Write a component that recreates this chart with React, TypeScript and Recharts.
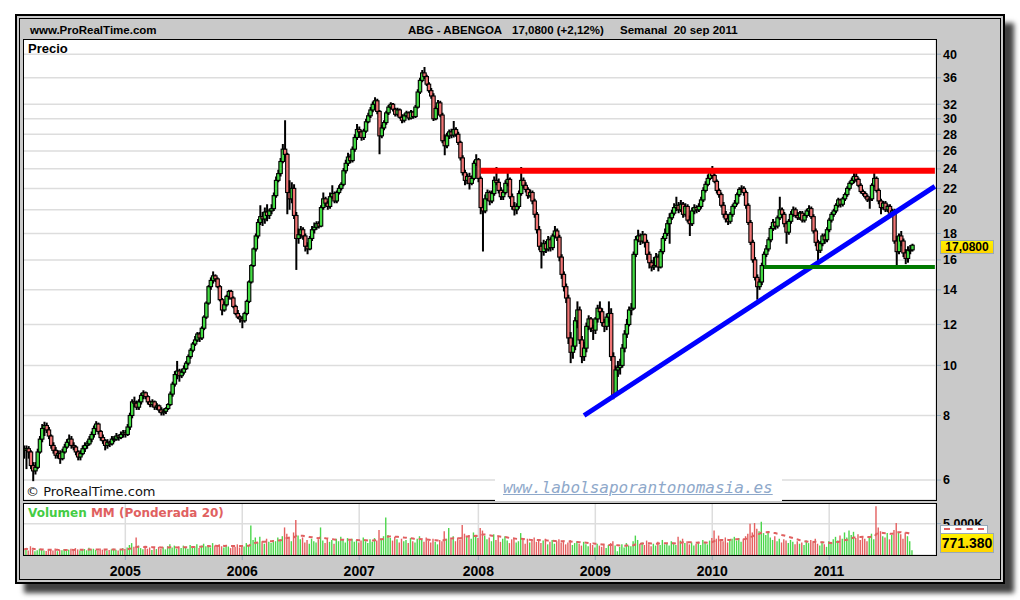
import { Bar, CartesianGrid, Cell, ComposedChart, Line, ReferenceLine, XAxis, YAxis } from 'recharts'

// weekly bars, first week starting Monday 23 Feb 2004
const START = Date.UTC(2004, 1, 23)
const WEEK = 7 * 24 * 3600 * 1000
const EMPTY_WEEKS = 10
const FIRST_OPEN = 6.9

const closes = [
  6.85, 6.9, 6.8, 6.4, 6.25, 6.35, 6.8, 7.2, 7.55, 7.65,
  7.5, 7.3, 7.0, 6.85, 6.7, 6.75, 6.6, 6.8, 6.95, 7.1,
  7.2, 7.0, 6.95, 6.8, 6.65, 6.75, 6.9, 7.0, 7.05, 7.2,
  7.35, 7.55, 7.7, 7.45, 7.25, 7.15, 7.0, 7.1, 7.05, 7.2,
  7.2, 7.3, 7.25, 7.35, 7.4, 7.35, 7.6, 8.0, 8.5, 8.45,
  8.3, 8.5, 8.75, 8.85, 8.7, 8.5, 8.4, 8.5, 8.3, 8.35,
  8.2, 8.1, 8.15, 8.25, 8.4, 8.8, 9.2, 9.6, 9.75, 9.55,
  9.7, 9.85, 10.1, 10.4, 10.7, 11.0, 11.2, 11.5, 11.3, 11.8,
  12.4, 13.2, 14.2, 14.6, 14.9, 14.7, 14.2, 13.4, 12.8, 13.1,
  13.6, 13.9, 13.5, 13.0, 12.6, 12.4, 12.3, 12.2, 12.6, 13.3,
  14.5, 15.6, 16.8, 17.8, 18.9, 19.4, 19.2, 19.8, 19.5, 19.9,
  20.1, 21.3, 22.8, 23.5, 24.8, 26.2, 25.6, 21.6, 21.0, 22.0,
  19.5, 17.6, 17.9, 18.3, 17.8, 17.0, 16.8, 17.6, 18.3, 18.5,
  18.8, 18.6, 20.2, 21.0, 20.6, 20.3, 21.2, 21.5, 20.8, 21.6,
  22.0, 22.4, 23.8, 24.6, 25.3, 24.9, 26.2, 27.6, 28.6, 28.3,
  27.6, 28.4, 29.6, 30.4, 31.2, 32.0, 32.5, 31.0, 27.8, 28.8,
  29.5, 30.8, 31.6, 32.0, 31.3, 30.6, 31.2, 30.2, 29.8, 30.4,
  30.8, 30.1, 30.9, 30.3, 31.6, 33.8, 35.6, 36.8, 36.2, 35.0,
  34.0, 33.2, 30.0, 31.4, 32.2, 30.5, 27.2, 26.6, 27.8, 28.3,
  27.9, 28.6, 28.0, 27.0, 25.2, 23.6, 22.8, 23.2, 22.5, 23.0,
  24.6, 25.0, 23.0, 20.2, 19.9, 21.0, 21.6, 20.8, 21.5, 22.8,
  22.6, 21.8, 21.2, 21.6, 22.5, 22.9, 21.2, 20.3, 20.0, 20.3,
  21.5, 22.8, 22.3, 21.9, 21.3, 21.6, 20.8, 19.6, 18.3, 17.0,
  16.6, 17.2, 16.8, 17.5, 16.9, 17.8, 18.2, 17.7, 16.2, 15.0,
  14.2, 13.5, 11.3, 10.6, 10.9, 12.2, 12.8, 11.2, 10.4, 10.8,
  11.9, 12.3, 11.8, 11.7, 12.3, 12.9, 12.7, 12.1, 11.9, 12.4,
  12.6, 10.4, 8.75, 9.8, 9.9, 10.0, 10.8, 11.5, 12.0, 12.8,
  12.9, 16.4, 17.5, 17.8, 17.4, 17.9, 17.3, 16.4, 15.8, 15.5,
  15.6, 16.2, 15.5, 16.6, 17.6, 18.0, 18.8, 19.3, 19.7, 20.2,
  20.4, 20.0, 20.5, 19.6, 20.3, 19.1, 18.8, 19.9, 20.2, 20.0,
  20.3, 20.9, 21.8, 22.4, 23.0, 23.6, 23.3, 22.7, 21.8, 21.4,
  20.4, 19.6, 19.2, 19.0, 19.6, 20.3, 20.6, 21.4, 21.9, 22.0,
  21.6, 20.4, 18.9, 17.3, 16.0, 14.8, 14.2, 14.5, 15.6, 16.4,
  16.8, 17.5, 18.4, 18.9, 18.6, 19.3, 20.0, 19.6, 18.8, 18.1,
  19.0, 19.6, 20.0, 19.5, 19.3, 19.7, 19.1, 19.5, 19.9, 20.1,
  19.4, 18.2, 17.3, 16.7, 17.2, 17.8, 17.5, 18.3, 19.1, 19.6,
  19.9, 20.4, 20.9, 20.5, 21.0, 21.4, 22.0, 22.5, 22.8, 23.2,
  22.9, 22.3, 21.7, 21.5, 21.2, 20.9, 21.0, 22.3, 23.0, 21.8,
  20.8, 20.2, 20.6, 20.0, 20.3, 19.7, 19.9, 17.4, 16.6, 17.8,
  17.4, 16.5, 16.1, 16.7, 16.73, 17.08,
]

const highs = [
  7.0, 7.0, 6.98, 6.85, 6.5, 6.5, 6.9, 7.3, 7.7, 7.78,
  7.75, 7.6, 7.35, 7.1, 6.95, 6.85, 6.85, 6.9, 7.05, 7.2,
  7.35, 7.3, 7.1, 7.0, 6.85, 6.85, 7.0, 7.1, 7.15, 7.3,
  7.45, 7.65, 7.8, 7.75, 7.5, 7.35, 7.2, 7.2, 7.15, 7.3,
  7.3, 7.4, 7.35, 7.45, 7.5, 7.5, 7.7, 8.1, 8.6, 8.7,
  8.55, 8.6, 8.85, 8.95, 8.9, 8.75, 8.55, 8.6, 8.55, 8.45,
  8.4, 8.3, 8.25, 8.3, 8.45, 8.9, 9.3, 9.75, 10.2, 9.85,
  9.85, 10.0, 10.2, 10.5, 10.8, 11.1, 11.4, 11.6, 11.6, 11.9,
  12.5, 13.3, 14.3, 14.8, 15.2, 15.0, 14.8, 14.3, 13.5, 13.3,
  13.7, 14.0, 14.0, 13.6, 13.1, 12.8, 12.5, 12.45, 12.7, 13.4,
  14.6, 15.7, 16.9, 18.0, 19.2, 20.4, 19.8, 20.2, 20.5, 20.1,
  20.5, 21.6, 23.2, 23.9, 25.2, 26.8, 29.8, 25.8, 22.8, 22.6,
  22.4, 19.8, 18.4, 18.6, 18.5, 18.0, 17.3, 17.8, 18.6, 18.9,
  19.0, 19.0, 20.4, 21.6, 21.2, 20.8, 21.6, 22.3, 21.7, 21.8,
  22.3, 22.6, 24.1, 25.0, 25.8, 25.6, 26.5, 28.0, 29.3, 29.0,
  28.5, 28.7, 30.0, 30.8, 31.6, 32.4, 33.0, 32.8, 31.2, 29.2,
  29.8, 31.1, 31.9, 32.3, 32.2, 31.5, 31.5, 31.4, 30.6, 30.7,
  31.1, 31.0, 31.2, 31.1, 31.9, 34.2, 36.0, 37.3, 37.8, 36.5,
  35.3, 34.4, 33.6, 31.7, 32.6, 32.5, 30.8, 28.0, 28.2, 28.6,
  28.7, 29.7, 28.9, 28.3, 27.2, 25.5, 23.9, 23.5, 23.6, 23.3,
  24.9, 25.6, 25.2, 23.2, 20.6, 21.4, 21.9, 21.8, 21.8, 23.2,
  24.2, 23.0, 22.1, 21.9, 22.8, 23.9, 23.1, 21.5, 20.7, 20.6,
  21.8, 24.2, 23.1, 22.6, 22.1, 21.9, 21.8, 21.0, 19.8, 18.6,
  17.3, 17.5, 17.4, 17.8, 17.7, 18.0, 18.6, 18.4, 17.9, 16.4,
  15.2, 14.4, 13.7, 11.6, 11.3, 12.4, 13.3, 13.0, 11.4, 11.1,
  12.1, 12.5, 12.4, 12.0, 12.4, 13.1, 13.3, 12.9, 12.3, 12.6,
  13.3, 12.9, 10.6, 10.0, 10.2, 10.3, 11.0, 11.7, 12.3, 13.0,
  13.2, 16.6, 17.8, 18.3, 18.0, 18.2, 18.0, 17.5, 16.6, 16.0,
  16.2, 16.5, 16.4, 16.8, 17.8, 18.4, 19.1, 19.7, 20.0, 20.6,
  21.2, 20.7, 20.9, 20.7, 20.6, 20.5, 19.5, 20.2, 20.5, 20.4,
  20.6, 21.2, 22.1, 22.7, 23.4, 23.9, 24.3, 23.5, 22.9, 22.0,
  21.6, 20.7, 19.9, 19.5, 19.8, 20.5, 20.9, 21.6, 22.1, 22.3,
  22.2, 21.8, 20.6, 19.1, 17.5, 16.2, 15.0, 14.7, 15.8, 16.6,
  17.1, 17.7, 18.6, 19.2, 19.0, 19.5, 21.2, 20.2, 19.8, 19.0,
  19.2, 19.9, 20.3, 20.2, 19.8, 19.9, 19.9, 19.7, 20.1, 20.4,
  20.3, 19.6, 18.4, 17.5, 17.4, 18.0, 18.0, 18.5, 19.3, 19.8,
  20.1, 20.6, 21.1, 21.0, 21.2, 21.6, 22.2, 22.7, 23.1, 23.6,
  24.0, 23.1, 22.5, 21.9, 21.7, 21.4, 21.2, 22.5, 24.1, 23.2,
  22.0, 21.0, 20.8, 20.8, 20.5, 20.5, 20.1, 20.1, 17.8, 18.0,
  18.2, 17.6, 16.8, 17.0, 17.1, 17.2,
]

const lows = [
  6.6, 6.3, 6.6, 6.3, 5.97, 6.15, 6.3, 6.75, 7.1, 7.3,
  7.4, 7.2, 6.9, 6.75, 6.6, 6.6, 6.45, 6.55, 6.75, 6.9,
  7.0, 6.9, 6.85, 6.7, 6.55, 6.55, 6.7, 6.8, 6.9, 7.0,
  7.1, 7.25, 7.45, 7.35, 7.15, 7.05, 6.85, 6.9, 6.95, 7.0,
  7.1, 7.15, 7.15, 7.2, 7.25, 7.25, 7.3, 7.5, 7.9, 8.3,
  8.2, 8.2, 8.4, 8.6, 8.6, 8.4, 8.3, 8.3, 8.2, 8.2,
  8.1, 8.0, 8.0, 8.05, 8.2, 8.35, 8.7, 9.1, 9.4, 9.3,
  9.45, 9.6, 9.8, 10.0, 10.3, 10.6, 10.9, 11.1, 11.1, 11.2,
  11.7, 12.3, 13.1, 14.0, 14.4, 14.5, 14.1, 13.3, 12.5, 12.7,
  13.0, 13.4, 13.4, 12.9, 12.5, 12.3, 12.1, 11.8, 12.1, 12.5,
  13.2, 14.4, 15.5, 16.6, 17.6, 18.7, 18.6, 18.8, 19.0, 19.2,
  19.6, 19.9, 21.1, 22.6, 23.2, 24.6, 25.2, 19.6, 20.0, 20.6,
  19.2, 15.3, 17.2, 17.6, 17.5, 16.6, 16.4, 16.7, 17.4, 18.0,
  18.3, 18.4, 18.5, 20.0, 20.3, 20.0, 20.1, 21.0, 20.6, 20.6,
  21.4, 21.8, 22.2, 23.5, 24.3, 24.6, 24.7, 25.9, 27.3, 27.6,
  27.2, 27.3, 28.2, 29.4, 30.1, 30.9, 31.6, 30.6, 25.6, 27.5,
  28.5, 29.2, 30.5, 31.3, 31.0, 30.3, 30.3, 30.0, 29.4, 29.5,
  30.2, 29.8, 29.9, 30.0, 30.1, 31.4, 33.5, 35.3, 35.8, 34.7,
  33.7, 32.8, 29.7, 29.8, 31.1, 30.2, 26.9, 25.5, 26.3, 27.4,
  27.5, 27.6, 27.7, 26.7, 24.9, 23.3, 22.3, 22.4, 21.9, 22.3,
  22.8, 24.3, 22.6, 19.6, 16.6, 19.7, 20.8, 20.4, 20.6, 21.3,
  22.3, 21.5, 20.9, 20.9, 21.4, 22.2, 21.0, 20.0, 19.5, 19.6,
  20.1, 21.3, 22.0, 21.6, 21.0, 21.1, 20.5, 19.3, 18.0, 16.7,
  15.4, 16.3, 16.5, 16.6, 16.6, 16.7, 17.6, 17.4, 15.9, 14.7,
  13.9, 13.2, 11.0, 10.1, 10.3, 10.7, 11.8, 11.0, 10.1, 10.2,
  10.6, 11.7, 11.6, 11.2, 11.5, 12.1, 12.5, 11.9, 11.6, 11.7,
  12.1, 10.2, 8.6, 8.7, 9.5, 9.6, 9.9, 10.6, 11.3, 11.9,
  12.5, 12.8, 16.2, 17.3, 17.1, 17.2, 16.9, 16.0, 15.4, 15.2,
  15.3, 15.5, 15.2, 15.4, 16.4, 17.4, 17.8, 17.2, 19.1, 19.5,
  19.9, 19.7, 19.8, 19.3, 19.4, 18.9, 17.8, 18.6, 19.6, 19.7,
  19.8, 20.1, 20.7, 21.6, 22.2, 22.8, 23.0, 22.5, 21.5, 21.1,
  20.2, 19.3, 18.9, 18.7, 18.8, 19.4, 20.1, 20.4, 21.2, 21.6,
  21.3, 20.1, 18.7, 17.1, 15.8, 14.6, 13.4, 14.0, 14.3, 15.4,
  16.2, 16.6, 17.3, 18.2, 18.3, 18.4, 19.1, 19.3, 18.5, 17.2,
  17.9, 18.8, 19.4, 19.3, 19.1, 19.1, 18.9, 18.9, 19.3, 19.7,
  19.2, 18.0, 17.0, 15.8, 16.5, 17.0, 17.2, 17.3, 18.1, 18.9,
  19.4, 19.7, 20.2, 20.2, 20.3, 20.8, 21.2, 21.8, 22.3, 22.5,
  22.6, 22.1, 21.5, 21.3, 21.0, 20.7, 20.1, 20.8, 22.1, 21.6,
  20.5, 19.6, 20.0, 19.8, 19.8, 19.5, 19.5, 17.2, 15.6, 16.4,
  17.0, 16.2, 15.7, 15.8, 16.4, 16.6,
]

// weekly volume, thousands of shares
const volumes = [
  900, 1100, 700, 1400, 800, 600, 750, 1000, 850, 700,
  650, 900, 800, 700, 1050, 600, 800, 750, 950, 700,
  850, 1000, 650, 1100, 900, 700, 800, 950, 750, 1150,
  900, 1000, 800, 700, 1050, 850, 950, 700, 800, 900,
  1000, 850, 700, 900, 1100, 950, 1200, 1600, 1900, 1300,
  2800, 1500, 1100, 900, 1300, 1000, 1200, 800, 1100, 950,
  1300, 1000, 1250, 900, 1400, 1700, 1200, 1500, 1000, 1350,
  1100, 1500, 1300, 1000, 1600, 1250, 1400, 1700, 1100, 1500,
  1800, 1400, 1600, 1200, 1900, 1500, 1300, 1700, 1400, 1200,
  1600, 1350, 1100, 1500, 1300, 1700, 1200, 1450, 1350, 1900,
  1600, 4700, 2400, 2800, 2000, 2900, 2200, 1800, 2600, 2100,
  1900, 2400, 2200, 2800, 2500, 3000, 4400, 3400, 2900, 2200,
  3600, 5600, 3100, 2500, 2800, 2000, 2400, 1800, 2600, 2200,
  2000, 2500, 4400, 2300, 1900, 2700, 2100, 2400, 1800, 2600,
  2200, 2900, 2500, 2000, 2700, 2300, 2600, 2100, 2400, 2000,
  2300, 2800, 2200, 1900, 2500, 2100, 2700, 2300, 4000, 2600,
  3000, 6000, 3200, 2700, 2300, 2900, 2500, 2000, 2600, 2200,
  2400, 1900, 2700, 2200, 2000, 2600, 3000, 2400, 2100, 2800,
  2300, 2000, 2600, 2100, 1700, 2400, 2200, 3800, 2600, 4300,
  2500, 3000, 2200, 2800, 2400, 4800, 3400, 2900, 3200, 2600,
  3600, 3000, 2700, 4300, 3900, 3100, 2500, 2800, 2200, 3300,
  2400, 2900, 2100, 2600, 3000, 2300, 1900, 2500, 2700, 2000,
  2200, 3500, 2400, 1800, 2600, 2000, 2300, 2800, 2100, 2500,
  1900, 2300, 2600, 1700, 2100, 2400, 1800, 2200, 2500, 2000,
  2300, 1700, 2000, 2400, 1600, 1900, 2200, 1800, 1500, 2100,
  1700, 1400, 1900, 1600, 1200, 1800, 1500, 1300, 1700, 1100,
  1600, 1900, 2200, 1500, 600, 1300, 1700, 1200, 1900, 1500,
  1400, 2200, 3100, 2400, 1800, 2000, 1600, 2300, 1700, 1400,
  1800, 1500, 2100, 1600, 2400, 1700, 1900, 1500, 2200, 1800,
  1600, 2900, 2300, 2600, 1900, 2200, 1700, 2000, 1500, 1800,
  2100, 1600, 2400, 1900, 1700, 2300, 2700, 3900, 2600, 3100,
  2500, 2200, 2800, 2000, 2400, 2600, 2900, 2300, 2700, 2100,
  2600, 3000, 3400, 5000, 3600, 5100, 4200, 3800, 5300, 3500,
  3200, 3700, 2800, 2400, 3000, 2200, 2600, 2000, 2500, 2300,
  1900, 2400, 2100, 1700, 2200, 1800, 2000, 1600, 2300, 1900,
  2400, 2000, 2600, 1800, 1500, 2100, 1700, 1300, 2200, 1800,
  2500, 2900, 2300, 3100, 2600, 3600, 2800, 3900, 3200, 3700,
  2700, 3300, 2400, 3000, 2600, 2200, 2900, 3400, 2500, 7800,
  4400, 3800, 3000, 2800, 3500, 2500, 3200, 4000, 5100, 3700,
  3300, 2600, 3600, 3000, 2200, 771.38,
]

const priceTicks = [6, 8, 10, 12, 14, 16, 18, 20, 22, 24, 26, 28, 30, 32, 36, 40]
const volumeTicks = [5000]

// drawn trend lines: [week index, price]
const resistance = [[203, 23.8], [405, 23.8]]
const trendline = [[249, 8.0], [405, 22.2]]
const support = [[329, 15.5], [405, 15.5]]

const CANDLE_UP = '#43dc43'
const CANDLE_DOWN = '#f07474'
const VOL_UP = '#4cd64c'
const VOL_DOWN = '#e45f5f'

const wma = volumes.map((_, i) => {
  let s = 0
  let w = 0
  for (let k = 0; k < 20 && i - k >= 0; k++) {
    s += (20 - k) * volumes[i - k]
    w += 20 - k
  }
  return s / w
})

const rows = Array.from({ length: closes.length + EMPTY_WEEKS }, (_, i) => {
  const t = START + i * WEEK
  if (i >= closes.length) return { i, t }
  const open = i === 0 ? FIRST_OPEN : closes[i - 1]
  const close = closes[i]
  const hi = Math.max(highs[i], open, close)
  const lo = Math.min(lows[i], open, close)
  return { i, t, open, close, hl: [lo, hi], up: close >= open, v: volumes[i], mm: wma[i] }
})

const yearTicks = rows
  .filter((r, k) => k > 0 && new Date(r.t).getUTCFullYear() !== new Date(rows[k - 1].t).getUTCFullYear())
  .map((r) => r.i)

const yearOf = (i: number) => String(new Date(START + i * WEEK).getUTCFullYear())

const Candle = (props: any) => {
  const { x, y, width, height, payload } = props
  if (!payload || !payload.hl || !Number.isFinite(y) || !Number.isFinite(height)) return <g />
  const cx = x + width / 2
  const y0 = Math.min(y, y + height)
  const y1 = Math.max(y, y + height)
  const [lo, hi] = payload.hl
  const span = Math.log(hi / lo) || 1
  const toY = (p: number) => y0 + ((y1 - y0) * Math.log(hi / p)) / span
  const top = toY(Math.max(payload.open, payload.close))
  const bottom = toY(Math.min(payload.open, payload.close))
  return (
    <g>
      <line x1={cx} x2={cx} y1={y0} y2={y1} stroke="#000" strokeWidth={2} />
      <rect
        x={cx - 1.7}
        y={top}
        width={3.4}
        height={Math.max(bottom - top, 1)}
        fill={payload.up ? CANDLE_UP : CANDLE_DOWN}
        stroke="#000"
        strokeWidth={1.1}
      />
    </g>
  )
}

const sans = 'Liberation Sans, Arial, sans-serif'
const axisFont = { fontFamily: sans, fontWeight: 700, fontSize: 12.5, fill: '#000' }
const headFont = { fontFamily: sans, fontWeight: 700, fontSize: 11.5, lineHeight: '16px', whiteSpace: 'pre' as const }

const abs = (left: number, top: number, extra: any = {}) => ({ position: 'absolute' as const, left, top, ...extra })

const seg = (p: number[][]) => p.map(([x, y]) => ({ x, y }))

export default function App() {
  return (
    <div style={{ position: 'fixed', left: 0, top: 0, width: 1020, height: 600, background: '#fff', overflow: 'hidden' }}>
      <div style={abs(15, 14, { width: 990, height: 570, background: '#c9c9c9', border: '2px solid #000', boxSizing: 'border-box', boxShadow: '9px 9px 5px rgba(0,0,0,0.75)' })} />
      <div style={abs(19, 18, { width: 982, height: 562, border: '1px solid #000', boxSizing: 'border-box' })} />

      <div style={abs(30, 22, headFont)}>www.ProRealTime.com</div>
      <div style={abs(408, 22, headFont)}>ABG - ABENGOA</div>
      <div style={abs(512, 22, headFont)}>17,0800 (+2,12%)</div>
      <div style={abs(620, 22, headFont)}>{'Semanal  20 sep 2011'}</div>

      <div style={abs(23, 39, { width: 913, height: 461, background: '#fff' })} />
      <div style={abs(23, 503, { width: 913, height: 52, background: '#fff' })} />

      <div style={abs(23, 39)}>
        <ComposedChart width={973} height={461} data={rows} margin={{ top: 0, right: 0, bottom: 0, left: 0 }}>
          <CartesianGrid stroke="#dddddd" strokeWidth={1.5} />
          <XAxis dataKey="i" type="category" ticks={yearTicks} interval={0} height={0} tick={false} axisLine={false} tickLine={false} />
          <YAxis
            orientation="right"
            width={60}
            type="number"
            scale="log"
            domain={[5.49, 42.8]}
            allowDataOverflow
            ticks={priceTicks}
            interval={0}
            axisLine={false}
            tickSize={5}
            tickLine={{ stroke: '#8fa6b8' }}
            tick={axisFont}
          />
          <Bar dataKey="hl" isAnimationActive={false} shape={(p: any) => <Candle {...p} />} />
          <ReferenceLine segment={seg(resistance)} stroke="#ff0000" strokeWidth={6} />
          <ReferenceLine segment={seg(trendline)} stroke="#0000ff" strokeWidth={5} />
          <ReferenceLine segment={seg(support)} stroke="#007a00" strokeWidth={4} />
        </ComposedChart>
      </div>

      <div style={abs(23, 503)}>
        <ComposedChart width={973} height={82} data={rows} margin={{ top: 0, right: 0, bottom: 0, left: 0 }}>
          <CartesianGrid stroke="#dddddd" strokeWidth={1.5} />
          <XAxis
            dataKey="i"
            type="category"
            ticks={yearTicks}
            interval={0}
            height={30}
            tickFormatter={yearOf}
            axisLine={false}
            tickSize={5}
            tickMargin={6}
            tickLine={{ stroke: '#8fa6b8' }}
            tick={{ ...axisFont, fontSize: 14 }}
          />
          <YAxis
            orientation="right"
            width={60}
            type="number"
            domain={[0, 8300]}
            allowDataOverflow
            ticks={volumeTicks}
            tickFormatter={() => '5.000K'}
            axisLine={false}
            tickSize={5}
            tickLine={{ stroke: '#8fa6b8' }}
            tick={axisFont}
          />
          <Bar dataKey="v" barSize={1.4} isAnimationActive={false}>
            {rows.map((r) => (
              <Cell key={r.i} fill={r.up ? VOL_UP : VOL_DOWN} />
            ))}
          </Bar>
          <Line dataKey="mm" stroke="#e06060" strokeWidth={2} strokeDasharray="4 4" dot={false} isAnimationActive={false} />
        </ComposedChart>
      </div>

      <div style={abs(23, 39, { width: 914, height: 462, border: '1px solid #000', boxSizing: 'border-box' })} />
      <div style={abs(23, 503, { width: 914, height: 53, border: '1px solid #000', boxSizing: 'border-box' })} />

      <div style={abs(28, 41, { fontFamily: sans, fontWeight: 700, fontSize: 13, lineHeight: '16px' })}>Precio</div>
      <div style={abs(26, 484, { fontFamily: 'DejaVu Sans, sans-serif', fontSize: 13, lineHeight: '15px', color: '#111' })}>© ProRealTime.com</div>
      <div style={abs(495, 478, { width: 287, height: 23, background: '#fff' })} />
      <div style={abs(503, 478, { fontFamily: "'DejaVu Sans Mono', monospace", fontStyle: 'italic', fontSize: 16, lineHeight: '20px', color: '#8ea8ca', textDecoration: 'underline' })}>
        www.labolsaporantonomasia.es
      </div>
      <div style={abs(28, 505, { fontFamily: 'DejaVu Sans, sans-serif', fontWeight: 700, fontSize: 12, lineHeight: '16px', whiteSpace: 'pre' })}>
        <span style={{ color: '#44cc44' }}>Volumen </span>
        <span style={{ color: '#e06060' }}>MM (Ponderada 20)</span>
      </div>

      <div style={abs(940, 240, { width: 54, height: 14, background: 'linear-gradient(#fff200, #ffd400)', border: '1px solid #98a8b8', boxSizing: 'border-box', fontFamily: sans, fontWeight: 700, fontSize: 12, lineHeight: '12px', textAlign: 'center' })}>
        17,0800
      </div>
      <div style={abs(940, 525, { width: 48, height: 9, background: '#fff', border: '1px solid #98a8b8', boxSizing: 'border-box' })}>
        <div style={{ marginTop: 2, marginLeft: 3, width: 40, borderTop: '2px dashed #e06060' }} />
      </div>
      <div style={abs(940, 533, { width: 54, height: 20, background: 'linear-gradient(#fff200, #ffd400)', border: '1px solid #98a8b8', boxSizing: 'border-box', fontFamily: sans, fontWeight: 700, fontSize: 14, lineHeight: '18px', textAlign: 'center' })}>
        771.380
      </div>
    </div>
  )
}
